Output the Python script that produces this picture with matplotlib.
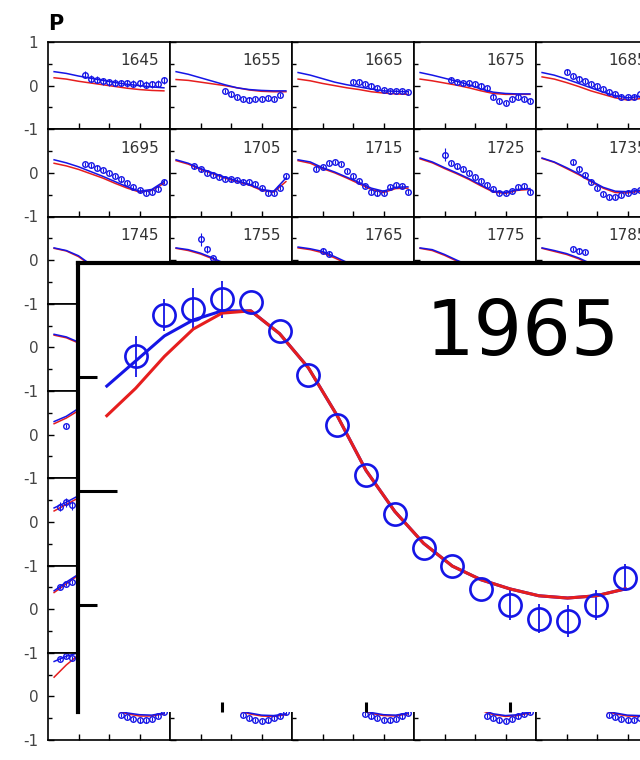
import matplotlib
matplotlib.use("Agg")
import matplotlib.pyplot as plt
import numpy as np

plt.rcParams['font.family'] = ['DejaVu Sans']

BLUE = '#1515e6'
RED = '#e61e1e'

# panel years, 5 per row
years = [
    [1645, 1655, 1665, 1675, 1685],
    [1695, 1705, 1715, 1725, 1735],
    [1745, 1755, 1765, 1775, 1785],
    [1795, 1805, 1815, 1825, 1835],
    [1845, 1855, 1865, 1875, 1885],
    [1895, 1905, 1915, 1925, 1935],
    [1945, 1955, 1965, 1975, 1985],
    [1995, 2005, 2015, 2025, 2035],
]

# model curves sampled at these x (None = not visible)
x_line = [0.2, 0.6, 1.0, 1.4, 1.8, 2.2, 2.6, 3.0, 3.4, 3.8]

blue_line = {
    1645: [0.32, 0.28, 0.22, 0.17, 0.12, 0.07, 0.03, 0.00, -0.03, -0.05],
    1655: [0.32, 0.26, 0.18, 0.10, 0.02, -0.05, -0.09, -0.11, -0.12, -0.12],
    1665: [0.30, 0.24, 0.16, 0.08, 0.02, -0.03, -0.08, -0.12, -0.13, -0.14],
    1675: [0.30, 0.24, 0.17, 0.10, 0.02, -0.08, -0.15, -0.18, -0.19, -0.19],
    1685: [0.30, 0.24, 0.15, 0.05, -0.05, -0.15, -0.23, -0.28, -0.25, -0.18],
    1695: [0.30, 0.23, 0.14, 0.03, -0.08, -0.20, -0.32, -0.42, -0.38, -0.20],
    1705: [0.30, 0.22, 0.10, 0.00, -0.10, -0.18, -0.26, -0.38, -0.42, -0.12],
    1715: [0.30, 0.25, 0.12, 0.02, -0.10, -0.22, -0.35, -0.42, -0.33, -0.32],
    1725: [0.34, 0.25, 0.12, 0.00, -0.13, -0.28, -0.42, -0.45, -0.38, -0.36],
    1735: [0.34, 0.25, 0.12, -0.02, -0.18, -0.33, -0.42, -0.43, -0.40, -0.38],
    1745: [0.28, 0.22, 0.10, -0.10],
    1755: [0.28, 0.24, 0.16, 0.05, -0.08],
    1765: [0.30, 0.26, 0.20, 0.08, -0.05],
    1775: [0.28, 0.24, 0.13, 0.00, -0.12],
    1785: [0.28, 0.22, 0.15, 0.05, -0.08],
    1795: [0.30, 0.24, 0.12],
    1845: [0.30, 0.42, 0.60],
    1895: [0.32, 0.45, 0.60],
    1945: [0.42, 0.62, 0.80],
    1995: [0.80, 0.92, 1.00, None, None, -0.30, -0.38, -0.42, -0.43, -0.38],
    2005: [None, None, None, None, None, -0.30, -0.38, -0.43, -0.44, -0.40],
    2015: [None, None, None, None, None, -0.28, -0.37, -0.42, -0.43, -0.38],
    2025: [None, None, None, None, None, -0.30, -0.40, -0.44, -0.42, -0.36],
    2035: [None, None, None, None, None, -0.30, -0.38, -0.43, -0.44, -0.40],
}

red_line = {
    1645: [0.18, 0.15, 0.10, 0.06, 0.02, -0.02, -0.06, -0.09, -0.11, -0.12],
    1655: [0.14, 0.12, 0.08, 0.04, 0.00, -0.05, -0.10, -0.13, -0.14, -0.14],
    1665: [0.15, 0.11, 0.05, 0.00, -0.05, -0.09, -0.14, -0.17, -0.19, -0.20],
    1675: [0.15, 0.11, 0.06, 0.01, -0.05, -0.12, -0.18, -0.20, -0.20, -0.20],
    1685: [0.20, 0.15, 0.07, -0.02, -0.12, -0.20, -0.28, -0.33, -0.30, -0.22],
    1695: [0.22, 0.16, 0.08, -0.02, -0.12, -0.24, -0.35, -0.44, -0.40, -0.24],
    1705: [0.28, 0.20, 0.08, -0.02, -0.12, -0.20, -0.28, -0.40, -0.44, -0.20],
    1715: [0.28, 0.22, 0.10, 0.00, -0.12, -0.25, -0.38, -0.45, -0.36, -0.35],
    1725: [0.32, 0.23, 0.10, -0.02, -0.15, -0.30, -0.44, -0.47, -0.40, -0.38],
    1735: [0.33, 0.24, 0.10, -0.04, -0.20, -0.35, -0.45, -0.46, -0.42, -0.40],
    1745: [0.27, 0.21, 0.08, -0.12],
    1755: [0.27, 0.22, 0.14, 0.03, -0.10],
    1765: [0.28, 0.24, 0.17, 0.05, -0.08],
    1775: [0.27, 0.22, 0.11, -0.02, -0.14],
    1785: [0.27, 0.20, 0.13, 0.03, -0.10],
    1795: [0.28, 0.22, 0.10],
    1845: [0.25, 0.38, 0.55],
    1895: [0.25, 0.40, 0.55],
    1945: [0.38, 0.58, 0.78],
    1995: [0.44, 0.72, 0.95, None, None, -0.32, -0.40, -0.45, -0.45, -0.40],
    2005: [None, None, None, None, None, -0.32, -0.40, -0.45, -0.46, -0.42],
    2015: [None, None, None, None, None, -0.30, -0.39, -0.44, -0.45, -0.40],
    2025: [None, None, None, None, None, -0.32, -0.42, -0.46, -0.44, -0.38],
    2035: [None, None, None, None, None, -0.32, -0.40, -0.45, -0.46, -0.42],
}

# observations: first x, then values every 0.2
obs_x0 = {
    1645: 1.2, 1655: 1.8, 1665: 2.0, 1675: 1.2, 1685: 1.0,
    1695: 1.2, 1705: 0.8, 1715: 0.8, 1725: 1.0, 1735: 1.2,
    1755: 1.0, 1765: 1.0, 1785: 1.2,
    1845: 0.6, 1895: 0.4, 1945: 0.4,
    1995: 0.4, 2005: 2.4, 2015: 2.4, 2025: 2.4, 2035: 2.4,
}
obs_vals = {
    1645: [0.25, 0.16, 0.13, 0.10, 0.08, 0.07, 0.06, 0.05, 0.04, 0.05, 0.02, 0.03, 0.04, 0.12],
    1655: [-0.12, -0.20, -0.26, -0.30, -0.32, -0.30, -0.31, -0.28, -0.30, -0.22],
    1665: [0.09, 0.08, 0.03, 0.00, -0.05, -0.10, -0.12, -0.13, -0.12, -0.14],
    1675: [0.14, 0.08, 0.05, 0.05, 0.04, 0.00, -0.05, -0.25, -0.35, -0.40, -0.30, -0.25, -0.30, -0.35],
    1685: [0.32, 0.22, 0.16, 0.10, 0.04, -0.02, -0.08, -0.14, -0.20, -0.25, -0.27, -0.25, -0.20, -0.15],
    1695: [0.20, 0.17, 0.12, 0.06, 0.00, -0.07, -0.15, -0.23, -0.32, -0.40, -0.45, -0.44, -0.36, -0.20],
    1705: [0.15, 0.08, 0.00, -0.05, -0.10, -0.13, -0.15, -0.17, -0.20, -0.22, -0.25, -0.35, -0.45, -0.45, -0.35, -0.08],
    1715: [0.10, 0.14, 0.23, 0.25, 0.20, 0.05, -0.08, -0.18, -0.30, -0.43, -0.47, -0.45, -0.32, -0.28, -0.30, -0.43],
    1725: [0.42, 0.23, 0.15, 0.08, 0.00, -0.10, -0.18, -0.28, -0.38, -0.46, -0.46, -0.42, -0.32, -0.30, -0.43],
    1735: [0.24, 0.10, -0.05, -0.20, -0.35, -0.48, -0.55, -0.55, -0.50, -0.45, -0.42, -0.40],
    1755: [0.48, 0.25, 0.05],
    1765: [0.22, 0.15],
    1785: [0.25, 0.22, 0.18],
    1845: [0.20],
    1895: [0.35, 0.45, 0.38],
    1945: [0.50, 0.58, 0.62],
    1995: [0.85, 0.92, 0.88, None, None, None, None, None, None, None,
           -0.42, -0.48, -0.52, -0.55, -0.55, -0.52, -0.45, -0.35],
    2005: [-0.42, -0.50, -0.54, -0.56, -0.55, -0.50, -0.44, -0.36],
    2015: [-0.40, -0.46, -0.50, -0.54, -0.55, -0.52, -0.46, -0.38],
    2025: [-0.44, -0.50, -0.55, -0.56, -0.52, -0.46, -0.40, -0.36],
    2035: [-0.42, -0.48, -0.52, -0.55, -0.54, -0.50, -0.44, -0.38],
}
obs_err = {
    1645: 0.08,
    1725: [0.15] + [0.05] * 14,
    1755: [0.15, 0.08, 0.05],
    1895: 0.1,
}

# enlarged panel (1965)
inset_x = [0.2, 0.4, 0.6, 0.8, 1.0, 1.2, 1.4, 1.6, 1.8, 2.0,
           2.2, 2.4, 2.6, 2.8, 3.0, 3.2, 3.4, 3.6, 3.8]
inset_blue = [0.46, 0.57, 0.68, 0.75, 0.79, 0.79, 0.69, 0.54, 0.33, 0.09,
              -0.09, -0.23, -0.33, -0.39, -0.43, -0.46, -0.47, -0.46, -0.43]
inset_red = [0.33, 0.45, 0.59, 0.71, 0.78, 0.79, 0.69, 0.54, 0.33, 0.09,
             -0.09, -0.23, -0.33, -0.39, -0.43, -0.46, -0.47, -0.46, -0.43]
inset_obs_x = [0.4, 0.6, 0.8, 1.0, 1.2, 1.4, 1.6, 1.8, 2.0,
               2.2, 2.4, 2.6, 2.8, 3.0, 3.2, 3.4, 3.6, 3.8]
inset_obs = [0.59, 0.77, 0.80, 0.84, 0.83, 0.70, 0.51, 0.29, 0.07,
             -0.10, -0.25, -0.33, -0.43, -0.50, -0.56, -0.57, -0.50, -0.38]
inset_err = [0.09, 0.07, 0.09, 0.08, 0.0, 0.0, 0.0, 0.0, 0.0,
             0.0, 0.0, 0.0, 0.0, 0.065, 0.065, 0.07, 0.065, 0.06]

W, H = 640, 760
fig = plt.figure(figsize=(W / 100, H / 100), dpi=100)


def px_rect(x0, y0, w, h):
    return [x0 / W, 1 - (y0 + h) / H, w / W, h / H]


PW, PH = 122, 87.25
for r, row in enumerate(years):
    for c, yr in enumerate(row):
        ax = fig.add_axes(px_rect(48 + PW * c, 42 + PH * r, PW, PH))
        ax.set_xlim(0, 4)
        ax.set_ylim(-1, 1)
        for sp in ax.spines.values():
            sp.set_linewidth(1.2)
        ax.set_xticks([1, 2, 3])
        ax.set_xticklabels([])
        ax.set_yticks([-1, 0, 1])
        ax.set_yticks([-0.5, 0.5], minor=True)
        ax.tick_params(direction='in', length=4, width=1)
        ax.tick_params(axis='y', which='minor', direction='in', length=3, width=1)
        if c == 0:
            ax.set_yticklabels(['-1', '0', '1' if r == 0 else ''],
                               fontsize=11, color='#444444')
            ax.tick_params(axis='y', pad=7)
        else:
            ax.set_yticklabels([])
        ax.text(0.91, 0.87, str(yr), transform=ax.transAxes, ha='right',
                va='top', fontsize=11, color='#333333')

        if yr in red_line:
            v = np.array(red_line[yr], dtype=float)
            ax.plot(x_line[:len(v)], v, color=RED, lw=1.1)
        if yr in blue_line:
            v = np.array(blue_line[yr], dtype=float)
            ax.plot(x_line[:len(v)], v, color=BLUE, lw=1.1)
        if yr in obs_vals:
            v = np.array(obs_vals[yr], dtype=float)
            xs = obs_x0[yr] + 0.2 * np.arange(len(v))
            e = np.broadcast_to(np.array(obs_err.get(yr, 0.05), dtype=float), v.shape)
            ok = ~np.isnan(v)
            ax.errorbar(xs[ok], v[ok], yerr=e[ok], fmt='o', ms=4, mfc='none',
                        mec=BLUE, mew=1.0, ecolor=BLUE, elinewidth=0.8, capsize=0)

fig.text(48 / W, 1 - 30 / H, 'P', fontsize=15, fontweight='bold')

# enlarged inset of the 1965 panel
ax_in = fig.add_axes(px_rect(78, 263, 576, 449), zorder=10)
ax_in.set_facecolor('white')
ax_in.set_xlim(0, 4)
ax_in.set_ylim(-0.97, 1)
ax_in.spines['left'].set_linewidth(3)
ax_in.spines['top'].set_linewidth(3)
ax_in.spines['bottom'].set_visible(False)
ax_in.spines['right'].set_visible(False)
ax_in.set_xticks([1, 2, 3])
ax_in.set_yticks([0])
ax_in.set_yticks([-0.5, 0.5], minor=True)
ax_in.tick_params(axis='x', direction='in', length=7, width=2.2,
                  labelbottom=False)
ax_in.tick_params(axis='y', which='major', direction='in', length=28,
                  width=2.2, labelleft=False)
ax_in.tick_params(axis='y', which='minor', direction='in', length=14,
                  width=2.2)

ax_in.plot(inset_x, inset_blue, color=BLUE, lw=2.2)
ax_in.errorbar(inset_obs_x, inset_obs, yerr=inset_err, fmt='o', ms=16,
               mfc='none', mec=BLUE, mew=1.9, ecolor=BLUE, elinewidth=1.3,
               capsize=0)
ax_in.plot(inset_x, inset_red, color=RED, lw=2.2)
ax_in.text(0.941, 0.795, '1965', transform=ax_in.transAxes, ha='right',
           va='baseline', fontsize=55, color='black')

fig.savefig('out.png', dpi=100)
